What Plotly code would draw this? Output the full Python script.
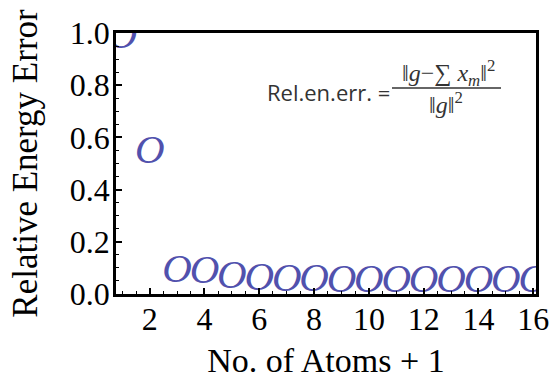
import plotly.graph_objects as go

# data
n_atoms_plus_1 = list(range(1, 17))
rel_energy_error = [0.98, 0.54, 0.085, 0.08, 0.063, 0.054, 0.05, 0.05,
                    0.048, 0.048, 0.047, 0.047, 0.046, 0.046, 0.046, 0.046]
x_ticks = [2, 4, 6, 8, 10, 12, 14, 16]
y_ticks = [0.0, 0.2, 0.4, 0.6, 0.8, 1.0]

SERIF = "Liberation Serif, Times New Roman, serif"
MARK = "#5151ad"

fig = go.Figure()
fig.add_trace(go.Scatter(
    x=n_atoms_plus_1, y=rel_energy_error, mode="text",
    text=["O"] * len(n_atoms_plus_1), textposition="middle center",
    textfont=dict(family=SERIF, size=41, color=MARK, style="italic"),
    cliponaxis=True, showlegend=False, hoverinfo="x+y",
))

# plot area in pixels: x 116..536, y 33..294
L, R, T, B = 116, 536, 33, 294
W, H = R - L, B - T
def px(x): return (x - L) / W
def py(y): return (B - y) / H

fig.add_annotation(text="Rel.en.err. =", x=px(392), y=py(92), xref="paper", yref="paper",
                   xanchor="right", yanchor="middle", showarrow=False,
                   font=dict(family="Open Sans, sans-serif", size=22, color="#333333"))
fig.add_annotation(text="‖<i>g</i>−∑ <i>x<sub>m</sub></i>‖<sup>2</sup>", x=px(448), y=py(73),
                   xref="paper", yref="paper", xanchor="center", yanchor="middle", showarrow=False,
                   font=dict(family=SERIF, size=24, color="#333333"))
fig.add_annotation(text="‖<i>g</i>‖<sup>2</sup>", x=px(446), y=py(103),
                   xref="paper", yref="paper", xanchor="center", yanchor="middle", showarrow=False,
                   font=dict(family=SERIF, size=24, color="#333333"))
fig.add_shape(type="line", xref="paper", yref="paper", x0=px(392), x1=px(501), y0=py(88), y1=py(88),
              line=dict(color="#333333", width=1.5))

axis_common = dict(showline=True, linecolor="black", linewidth=2.5, mirror=True,
                   ticks="inside", ticklen=6, tickwidth=1.5, tickcolor="black",
                   showgrid=False, zeroline=False,
                   tickfont=dict(family=SERIF, size=32, color="black"))

fig.update_xaxes(range=[0.77, 16.1], tickvals=x_ticks, ticklabelstandoff=-5,
                 minor=dict(dtick=0.5, tick0=0, ticks="inside", ticklen=3.5, tickwidth=1, tickcolor="black"),
                 title=dict(text="No. of Atoms + 1", font=dict(family=SERIF, size=34, color="black"), standoff=13),
                 **axis_common)
fig.update_yaxes(range=[0, 1.0], tickvals=y_ticks, tickformat=".1f", ticklabelstandoff=-3,
                 minor=dict(dtick=0.05, tick0=0, ticks="inside", ticklen=3.5, tickwidth=1, tickcolor="black"),
                 title=dict(text="Relative Energy Error", font=dict(family=SERIF, size=35, color="black"), standoff=22),
                 **axis_common)

fig.update_layout(width=552, height=385, plot_bgcolor="white", paper_bgcolor="white",
                  margin=dict(l=L, r=552 - R, t=T, b=385 - B, autoexpand=False))

# page body has a default 8px margin; drop it so the figure fills the window
fig.write_html("out.html", config={"displayModeBar": False},
               post_script="document.body.style.margin='0';")
